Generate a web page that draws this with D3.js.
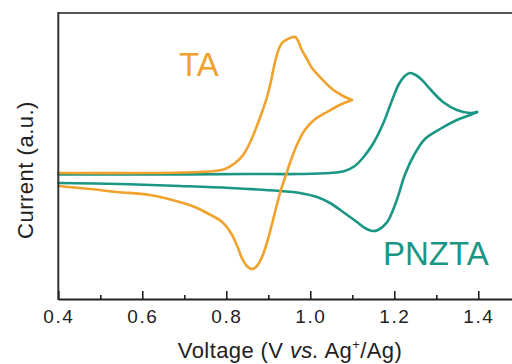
<!DOCTYPE html>
<html>
<head>
<meta charset="utf-8">
<script src="https://cdn.jsdelivr.net/npm/d3@7"></script>
<style>
  html, body { margin: 0; padding: 0; background: #fff; overflow: hidden; }
  svg { display: block; }
  text { font-family: "Liberation Sans", Arial, Helvetica, sans-serif; }
</style>
</head>
<body>
<svg id="chart" width="512" height="364"></svg>
<script>
// ---- data (voltage V vs Ag+/Ag, current a.u.) ----
const taForward = [
  [0.400,12.6],[0.618,12.6],[0.737,12.7],[0.773,12.8],[0.797,13.0],[0.821,13.6],
  [0.840,14.4],[0.856,15.6],[0.871,17.1],[0.885,18.7],[0.897,20.2],[0.907,21.9],
  [0.916,23.7],[0.926,25.1],[0.935,25.7],[0.964,26.2],[0.971,25.8],[0.980,24.9],
  [0.992,24.0],[1.004,23.1],[1.023,22.2],[1.052,21.0],[1.078,20.3],[1.099,19.9]
];
const taReverse = [
  [1.099,19.9],[1.070,19.4],[1.040,18.7],[1.009,17.9],[0.987,16.9],[0.968,15.4],
  [0.954,13.9],[0.942,12.4],[0.930,10.9],[0.916,8.7],[0.902,6.4],[0.887,4.4],
  [0.873,3.3],[0.861,3.0],[0.849,3.3],[0.837,4.1],[0.825,5.4],[0.811,6.6],
  [0.790,7.7],[0.754,8.6],[0.725,9.2],[0.697,9.6],[0.618,10.4],[0.540,10.7],
  [0.476,11.0],[0.400,11.3]
];
const pnztaForward = [
  [0.400,12.45],[0.618,12.45],[0.856,12.5],[0.975,12.5],[1.047,12.6],[1.082,12.8],
  [1.106,13.3],[1.125,14.1],[1.149,15.5],[1.173,17.5],[1.194,19.8],[1.211,21.5],
  [1.225,22.3],[1.237,22.6],[1.251,22.4],[1.266,21.9],[1.285,21.0],[1.316,19.7],
  [1.349,18.9],[1.380,18.6],[1.397,18.7]
];
const pnztaReverse = [
  [1.397,18.7],[1.380,18.4],[1.349,17.9],[1.309,17.0],[1.273,16.0],[1.247,14.4],
  [1.225,12.4],[1.206,9.9],[1.183,7.7],[1.161,6.9],[1.147,6.8],[1.130,7.1],
  [1.111,7.7],[1.078,8.7],[1.047,9.6],[1.016,10.2],[0.975,10.6],[0.928,10.8],
  [0.809,11.1],[0.690,11.3],[0.547,11.5],[0.400,11.6]
];
const majorTicks = [0.4, 0.6, 0.8, 1.0, 1.2, 1.4];
const minorTicks = [0.5, 0.7, 0.9, 1.1, 1.3, 1.5];
const seriesNames = ["TA", "PNZTA"];
const colors = { TA: "#F0A22C", PNZTA: "#1A9685" };

// ---- layout ----
const svg = d3.select("#chart");
const mLeft = 58.3, mTop = 13, mBottom = 299;
const x = d3.scaleLinear().domain([0.4, 1.5]).range([mLeft, mLeft + 1.1 * 420]);
const y = d3.scaleLinear().domain([0, 28.6]).range([mBottom, mTop]);

const line = d3.line().x(d => x(d[0])).y(d => y(d[1])).curve(d3.curveCatmullRom.alpha(0.5));

function drawSeries(data, color) {
  svg.append("path").datum(data)
    .attr("fill", "none").attr("stroke", color)
    .attr("stroke-width", 2.6).attr("stroke-linejoin", "round").attr("stroke-linecap", "round")
    .attr("d", line);
}
drawSeries(pnztaReverse, colors.PNZTA);
drawSeries(pnztaForward, colors.PNZTA);
drawSeries(taReverse, colors.TA);
drawSeries(taForward, colors.TA);

// frame: top line (gray)
svg.append("line").attr("x1", mLeft).attr("x2", 520).attr("y1", mTop).attr("y2", mTop)
  .attr("stroke", "#555").attr("stroke-width", 2);
// left axis line
svg.append("line").attr("x1", mLeft).attr("x2", mLeft).attr("y1", mTop - 1).attr("y2", mBottom + 1)
  .attr("stroke", "#333").attr("stroke-width", 2);

// bottom axis
const xAxis = d3.axisBottom(x).tickValues(majorTicks).tickSizeInner(-8).tickSizeOuter(0)
  .tickFormat(d3.format(".1f"));
const gx = svg.append("g").attr("transform", `translate(0,${mBottom})`).call(xAxis);
gx.select(".domain").attr("stroke", "#222").attr("stroke-width", 2);
gx.selectAll(".tick line").attr("stroke", "#222").attr("stroke-width", 1.6);
gx.selectAll(".tick text").attr("font-size", 19).attr("fill", "#222")
  .attr("letter-spacing", 1.5)
  .attr("font-family", "Liberation Sans, Arial, sans-serif").attr("y", 24).attr("dy", 0);
const xMinor = d3.axisBottom(x).tickValues(minorTicks).tickSizeInner(-4).tickSizeOuter(0).tickFormat("");
const gm = svg.append("g").attr("transform", `translate(0,${mBottom})`).call(xMinor);
gm.select(".domain").remove();
gm.selectAll(".tick line").attr("stroke", "#222").attr("stroke-width", 1.6);

// axis titles
const xt = svg.append("text").attr("x", 290).attr("y", 358).attr("text-anchor", "middle")
  .attr("font-size", 22).attr("letter-spacing", 0.4).attr("fill", "#222");
xt.append("tspan").text("Voltage (V ");
xt.append("tspan").attr("font-style", "italic").text("vs.");
xt.append("tspan").text(" Ag");
xt.append("tspan").attr("font-size", 13).attr("dy", -9).text("+");
xt.append("tspan").attr("dy", 9).text("/Ag)");

svg.append("text").attr("transform", "translate(33,170) rotate(-90)")
  .attr("text-anchor", "middle").attr("font-size", 22).attr("letter-spacing", 0.5).attr("fill", "#222")
  .text("Current (a.u.)");

// series labels
svg.append("text").attr("x", 179).attr("y", 76).attr("font-size", 33)
  .attr("fill", colors.TA).text(seriesNames[0]);
svg.append("text").attr("x", 383).attr("y", 265).attr("font-size", 33)
  .attr("fill", colors.PNZTA).text(seriesNames[1]);
</script>
</body>
</html>
